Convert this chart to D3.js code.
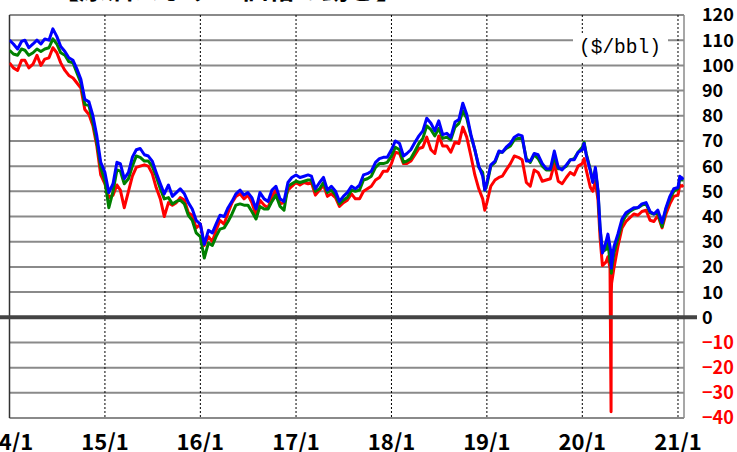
<!DOCTYPE html>
<html><head><meta charset="utf-8">
<script src="https://cdn.jsdelivr.net/npm/d3@7"></script>
<style>body{margin:0;background:#fff}svg{display:block}</style>
</head><body>
<svg id="c" width="737" height="452"></svg>
<script>
// ---------------- DATA ----------------
const dates = [
 "2014-01-01","2014-01-16","2014-02-01","2014-02-16","2014-03-01","2014-03-16","2014-04-01","2014-04-16","2014-05-01","2014-05-16","2014-06-01","2014-06-16","2014-07-01","2014-07-16","2014-08-01","2014-08-16","2014-09-01","2014-09-16","2014-10-01","2014-10-16","2014-11-01","2014-11-16","2014-12-01","2014-12-16",
 "2015-01-01","2015-01-16","2015-02-01","2015-02-16","2015-03-01","2015-03-16","2015-04-01","2015-04-16","2015-05-01","2015-05-16","2015-06-01","2015-06-16","2015-07-01","2015-07-16","2015-08-01","2015-08-16","2015-09-01","2015-09-16","2015-10-01","2015-10-16","2015-11-01","2015-11-16","2015-12-01","2015-12-16",
 "2016-01-01","2016-01-16","2016-02-01","2016-02-16","2016-03-01","2016-03-16","2016-04-01","2016-04-16","2016-05-01","2016-05-16","2016-06-01","2016-06-16","2016-07-01","2016-07-16","2016-08-01","2016-08-16","2016-09-01","2016-09-16","2016-10-01","2016-10-16","2016-11-01","2016-11-16","2016-12-01","2016-12-16",
 "2017-01-01","2017-01-16","2017-02-01","2017-02-16","2017-03-01","2017-03-16","2017-04-01","2017-04-16","2017-05-01","2017-05-16","2017-06-01","2017-06-16","2017-07-01","2017-07-16","2017-08-01","2017-08-16","2017-09-01","2017-09-16","2017-10-01","2017-10-16","2017-11-01","2017-11-16","2017-12-01","2017-12-16",
 "2018-01-01","2018-01-16","2018-02-01","2018-02-16","2018-03-01","2018-03-16","2018-04-01","2018-04-16","2018-05-01","2018-05-16","2018-06-01","2018-06-16","2018-07-01","2018-07-16","2018-08-01","2018-08-16","2018-09-01","2018-09-16","2018-10-01","2018-10-16","2018-11-01","2018-11-16","2018-12-01","2018-12-16","2018-12-24",
 "2019-01-01","2019-01-16","2019-02-01","2019-02-16","2019-03-01","2019-03-16","2019-04-01","2019-04-16","2019-05-01","2019-05-16","2019-06-01","2019-06-16","2019-07-01","2019-07-16","2019-08-01","2019-08-16","2019-09-01","2019-09-16","2019-10-01","2019-10-16","2019-11-01","2019-11-16","2019-12-01","2019-12-16",
 "2020-01-01","2020-01-08","2020-01-16","2020-02-01","2020-02-10","2020-02-20","2020-03-01","2020-03-09","2020-03-18","2020-04-01","2020-04-08","2020-04-16","2020-04-20","2020-04-21","2020-04-22","2020-05-01","2020-05-16","2020-06-01","2020-06-16","2020-07-01","2020-07-16","2020-08-01","2020-08-16","2020-09-01","2020-09-16","2020-10-01","2020-10-16","2020-11-01","2020-11-16","2020-12-01","2020-12-16",
 "2021-01-01","2021-01-08","2021-01-16","2021-01-22"
];
// Blue series
const brent = [
 110,108.5,106.5,109.5,110,107,108.5,110,108.5,110.5,110,114.5,111.5,107.5,105.5,103,102,98.5,94.5,86.5,85.5,80,72,61.5,
 57.5,49.5,53,61.5,61,55,57.5,63.5,66.5,67,64.5,64,62,57.5,53,49,52.5,48,49.5,51,49,45.5,43,38.5,
 37,29,34.5,33.5,37,40.5,40,43.5,46,49,50.5,48.5,49.5,47.5,43,49.5,47,46,50.5,52,47,46,53.5,55.5,
 56.5,55.5,56,56.5,56,51,53.5,55.5,50.5,52,50,46,48,49.5,52,51,52.5,56.5,57,58,61.5,63,63.5,63.5,
 66.5,70,69,64,65,66.5,69.5,72,74,79,77,74,78,72.5,73,71.5,77.5,78.5,85,80.5,72.5,66.5,60,56,50.5,
 53.5,60.5,62,66,65.5,67.5,69,71.5,72.5,72,62,62,65,64.5,61,59,59,66,59.5,58.5,60.5,62.5,62.5,65.5,
 66.5,69,64.5,58,53.5,59.5,50.5,36,25.5,30,33,28,25.5,19.5,21,28,33,39,41.5,42.5,43.5,43.5,45,45.5,42,41,42.5,37.5,43.5,48,51,
 51.5,56,55,55.5
];
// Green series
const dubai = [
 106,104.5,104,106.5,106,104,105,106.5,105.5,106.5,107,110.5,108.5,105,104,101.5,101,97,93,84.5,84,77.5,69.5,59.5,
 54,43.5,50,58.5,58,53,55,60,64,63.5,62,62,60,56,51,47,47.5,45,46,46.5,45,40.5,38.5,33.5,
 32,23.5,29.5,28.5,32,35,35.5,38,41,44.5,45,44.5,44.5,42,39,44,43,43,46,48.5,44,42.5,52,53,
 54,53.5,54,54.5,54.5,50,51,53.5,49.5,50.5,48.5,45,46.5,47.5,50.5,50,50.5,54.5,55,56,59.5,61,61,61.5,
 64,67.5,66.5,61.5,62,63,66,69,71,76,74.5,72,75,71,71.5,70.5,75.5,77,82,79,72,66.5,59.5,57.5,50.5,
 52.5,60,61.5,65.5,65.5,67,68,70.5,71,71,63,61.5,64.5,63,60,58.5,58.5,63.5,59,59,60,62.5,63,65.5,
 67.5,69.5,65,58.5,54,58.5,50,35,26,27,30,22,21,17.5,19,25.5,31,37.5,40.5,42,43,43.5,44.5,45,41.5,41,41.5,36,43,47,50,
 51,55,54.5,54.5
];
// Red series
const wti = [
 101,99,98,102,102,99,100.5,104,100,102.5,103,107,105,101,98,96,95,93,91,82.5,80.5,76,68,56.5,
 53,47.5,48.5,52.5,50.5,43.5,50,56,59.5,60,60.5,60,57,51.5,47,40,45.5,44.5,45.5,47.5,46.5,41.5,40.5,35.5,
 37,28.5,32,30,34.5,38.5,37,41.5,45.5,48,49,47,48.5,45.5,40.5,46.5,44.5,43.5,48,50.5,45,45.5,50.5,52,
 53.5,52.5,53.5,53,53.5,48.5,50.5,52.5,48,49,47.5,44,45.5,46.5,49,47,47,50,51,52,54.5,55.5,58,58,
 61,65.5,65,61,61,62,64.5,67,67.5,71.5,66.5,65,72,68,68,65.5,69.5,69,75.5,71.5,64,56.5,51,47,42.5,
 45.5,52,54.5,55.5,56,58.5,61,64,63.5,62.5,53.5,52,58.5,57.5,54,54.5,55,61,54,53,55.5,57.5,56.5,60,
 61,63,58.5,51.5,50,54,46.5,31.5,20.5,22,24,19.5,-37.5,10,13.5,19.5,28,35.5,38,39.5,41,40.5,42,42.5,38.5,38,40.5,35.5,41,45,48,
 48.5,52.5,52,52.5
];
const yTicks = [120,110,100,90,80,70,60,50,40,30,20,10,0,-10,-20,-30,-40];
const xTickDates = ["2014-01-01","2015-01-01","2016-01-01","2017-01-01","2018-01-01","2019-01-01","2020-01-01","2021-01-01"];
const xTickLabels = ["14/1","15/1","16/1","17/1","18/1","19/1","20/1","21/1"];
const titleText = "【原油スポット価格の動き】";
const unitText = "($/bbl)";

// ---------------- CHART ----------------
const svg = d3.select("#c");
const parse = d3.utcParse("%Y-%m-%d");
const L = 9.5, R = 684, T = 15, B = 418;
const x = d3.scaleUtc().domain([parse("2014-01-01"), parse("2021-01-24")]).range([L, R]);
const y = d3.scaleLinear().domain([-40, 120]).range([B, T]);

// title (mostly cut off at top)
svg.append("text").attr("x", 52).attr("y", -1)
  .attr("font-family", "'Noto Sans CJK JP'").attr("font-weight", "bold")
  .attr("font-size", 27).attr("fill", "#000").text(titleText);

// horizontal gridlines
svg.append("g").selectAll("line").data(yTicks.filter(v => v !== 0)).join("line")
  .attr("x1", L).attr("x2", R).attr("y1", d => y(d)).attr("y2", d => y(d))
  .attr("stroke", "#8a8a8a").attr("stroke-width", 2);

// vertical dotted gridlines
svg.append("g").selectAll("line").data(xTickDates.slice(1)).join("line")
  .attr("x1", d => x(parse(d))).attr("x2", d => x(parse(d)))
  .attr("y1", T).attr("y2", B)
  .attr("stroke", "#000").attr("stroke-width", 1).attr("stroke-dasharray", "2,2");

// frame
svg.append("line").attr("x1", L).attr("x2", L).attr("y1", T).attr("y2", B)
  .attr("stroke", "#333").attr("stroke-width", 1.5);
svg.append("line").attr("x1", R).attr("x2", R).attr("y1", T).attr("y2", B)
  .attr("stroke", "#8a8a8a").attr("stroke-width", 1.5);

// unit label with white box
svg.append("rect").attr("x", 573).attr("y", 33).attr("width", 95).attr("height", 28).attr("fill", "#fff");
svg.append("text").attr("x", 579).attr("y", 46).attr("dy", "0.35em")
  .attr("font-family", "'Liberation Mono'").attr("font-size", 19.5).attr("fill", "#000").text(unitText);

// series lines
svg.append("clipPath").attr("id", "clip").append("rect")
  .attr("x", L).attr("y", T - 5).attr("width", R - L).attr("height", B - T + 10);
const line = d3.line().x((d, i) => x(parse(dates[i]))).y(d => y(d));
const series = [[wti, "#ff0000"], [dubai, "#008000"], [brent, "#0000ff"]];
const gl = svg.append("g").attr("clip-path", "url(#clip)");
series.forEach(([vals, col]) => {
  gl.append("path").attr("d", line(vals)).attr("fill", "none")
    .attr("stroke", col).attr("stroke-width", 3).attr("stroke-linejoin", "round");
});

// zero line
svg.append("line").attr("x1", 0).attr("x2", 697).attr("y1", y(0)).attr("y2", y(0))
  .attr("stroke", "#444").attr("stroke-width", 4);

// right axis labels
svg.append("g").selectAll("text").data(yTicks).join("text")
  .attr("x", 702).attr("y", d => y(d)).attr("dy", "0.36em")
  .attr("font-family", "'Noto Sans CJK JP'").attr("font-weight", "bold").attr("font-size", 18)
  .attr("fill", d => d < 0 ? "#ff0000" : "#000")
  .text(d => d < 0 ? "\u2212" + Math.abs(d) : String(d));

// bottom axis labels
svg.append("g").selectAll("text").data(xTickDates).join("text")
  .attr("x", d => x(parse(d))).attr("y", 450).attr("text-anchor", "middle")
  .attr("font-family", "'Noto Sans CJK JP'").attr("font-weight", "bold").attr("font-size", 22)
  .attr("fill", "#000").text((d, i) => xTickLabels[i]);
</script>
</body></html>
